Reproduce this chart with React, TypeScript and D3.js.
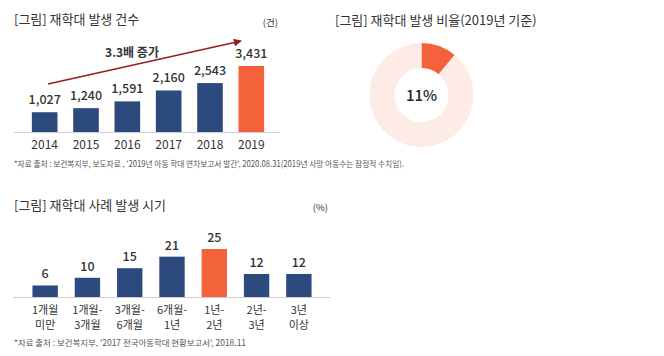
import React from 'react';
import * as d3 from 'd3';

const years = ['2014', '2015', '2016', '2017', '2018', '2019'];
const counts = [1027, 1240, 1591, 2160, 2543, 3431];

const ratioLabel = '11%';
const ratioValues = [11, 89];

const periodLine1 = ['1개월', '1개월-', '3개월-', '6개월-', '1년-', '2년-', '3년'];
const periodLine2 = ['미만', '3개월', '6개월', '1년', '2년', '3년', '이상'];
const shares = [6, 10, 15, 21, 25, 12, 12];

const FONT = "'Noto Sans CJK KR', 'Noto Sans', sans-serif";
const BLUE = '#2c4a7e';
const ORANGE = '#f4623b';
const PINK = '#fdece6';
const TEXT = '#333333';

export default function App() {
  // Chart 1
  const x1 = d3.scaleBand<string>().domain(years).range([24, 272]).paddingInner(0.38).paddingOuter(0.19);
  const y1 = d3.scaleLinear().domain([0, 3431]).range([132, 66]);

  // Chart 3
  const cats = periodLine1.map((d, i) => d + periodLine2[i]);
  const x3 = d3.scaleBand<string>().domain(cats).range([24, 320]).paddingInner(0.4).paddingOuter(0.2);
  const y3 = d3.scaleLinear().domain([0, 25]).range([297, 249]);

  // Donut
  const pie = d3.pie<number>().sort(null).value((d) => d);
  const arcs = pie(ratioValues);
  const arc = d3.arc<d3.PieArcDatum<number>>().innerRadius(27).outerRadius(52);

  const fmt = d3.format(',');

  return (
    <svg width={664} height={356} style={{ position: 'absolute', left: 0, top: 0, background: '#fff' }} fontFamily={FONT}>
      <defs>
        <marker id="arrowHead" viewBox="0 0 10 10" refX="9" refY="5" markerWidth="5" markerHeight="5" orient="auto">
          <path d="M0,0 L10,5 L0,10 z" fill="#9b1c20" />
        </marker>
      </defs>

      {/* Chart 1 */}
      <text x={14} y={24} fontSize={13} fill={TEXT}>[그림] 재학대 발생 건수</text>
      <text x={278} y={26} fontSize={9.5} fill={TEXT} textAnchor="end">(건)</text>
      <line x1={14} x2={280} y1={y1(0) + 0.5} y2={y1(0) + 0.5} stroke="#cfcfcf" strokeWidth={1} />
      {years.map((yr, i) => {
        const v = counts[i];
        const bx = x1(yr)!;
        const bw = x1.bandwidth();
        return (
          <g key={yr}>
            <rect x={bx} y={y1(v)} width={bw} height={y1(0) - y1(v)} fill={i === years.length - 1 ? ORANGE : BLUE} />
            <text x={bx + bw / 2} y={y1(v) - 8} fontSize={12.5} fontWeight={500} fill={TEXT} textAnchor="middle">{fmt(v)}</text>
            <text x={bx + bw / 2} y={149} fontSize={12} fontWeight={400} fill={TEXT} textAnchor="middle">{yr}</text>
          </g>
        );
      })}
      <line x1={48} y1={84} x2={241} y2={41} stroke="#9b1c20" strokeWidth={1.6} markerEnd="url(#arrowHead)" />
      <text x={132} y={57} fontSize={12} fontWeight={700} fill={TEXT} textAnchor="middle">3.3배 증가</text>
      <text x={14} y={167} fontSize={8.5} fill="#555" textLength={390} lengthAdjust="spacingAndGlyphs">
        *자료 출처 : 보건복지부, 보도자료 , '2019년 아동 학대 연차보고서 발간', 2020.08.31(2019년 사망 아동수는 잠정적 수치임).
      </text>

      {/* Donut */}
      <text x={335} y={25} fontSize={13} fill={TEXT}>[그림] 재학대 발생 비율(2019년 기준)</text>
      <g transform="translate(421.5,95)">
        {arcs.map((a, i) => (
          <path key={i} d={arc(a)!} fill={i === 0 ? ORANGE : PINK} />
        ))}
        <text x={0} y={6} fontSize={15} fontWeight={500} fill="#222" textAnchor="middle">{ratioLabel}</text>
      </g>

      {/* Chart 3 */}
      <text x={14} y={210} fontSize={13} fill={TEXT}>[그림] 재학대 사례 발생 시기</text>
      <text x={328} y={211} fontSize={9.5} fill={TEXT} textAnchor="end">(%)</text>
      <line x1={13} x2={330} y1={y3(0) + 0.5} y2={y3(0) + 0.5} stroke="#cfcfcf" strokeWidth={1} />
      {cats.map((c, i) => {
        const v = shares[i];
        const bx = x3(c)!;
        const bw = x3.bandwidth();
        return (
          <g key={c}>
            <rect x={bx} y={y3(v)} width={bw} height={y3(0) - y3(v)} fill={i === 4 ? ORANGE : BLUE} />
            <text x={bx + bw / 2} y={y3(v) - 7} fontSize={12.5} fontWeight={500} fill={TEXT} textAnchor="middle">{v}</text>
            <text x={bx + bw / 2} y={314} fontSize={11} fontWeight={400} fill={TEXT} textAnchor="middle">{periodLine1[i]}</text>
            <text x={bx + bw / 2} y={329} fontSize={11} fontWeight={400} fill={TEXT} textAnchor="middle">{periodLine2[i]}</text>
          </g>
        );
      })}
      <text x={14} y={346} fontSize={8.5} fill="#555" textLength={232} lengthAdjust="spacingAndGlyphs">
        *자료 출처 : 보건복지부, '2017 전국아동학대 현황보고서', 2018.11
      </text>
    </svg>
  );
}
